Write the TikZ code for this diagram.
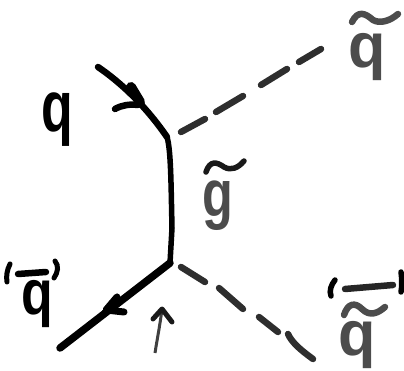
\documentclass[tikz,border=0pt]{standalone}
\usepackage{fontspec}
\setmainfont{Liberation Sans}
\tikzset{
  solidline/.style={line width=6.5pt,line cap=round,line join=round,black},
  dashline/.style={line width=6.5pt,line cap=round,black!82},
  accent/.style={line width=6.5pt,line cap=round,line join=round,black!70},
  letter/.style={inner sep=0pt,transform shape,font=\fontsize{72}{72}\bfseries\selectfont},
}
\begin{document}
\begin{tikzpicture}[x=1pt,y=-1pt]
\useasboundingbox (0,0) rectangle (404,371);
% quark lines
\coordinate (start) at (98,67);
\coordinate (v1) at (167,137);
\coordinate (v2) at (170,263);
\coordinate (end) at (60,348);
\draw[solidline] (start) .. controls (120,82) and (145,105) .. (v1);
\draw[line width=5.5pt,line cap=round,line join=round] (v1) .. controls (171,150) and (171,185) .. (172,228) -- (v2);
\draw[line width=7.5pt,line cap=round,line join=round] (v2) -- (end);
% arrowheads
\draw[line width=10pt,line cap=round] (131,87) -- (140,102);
\draw[solidline] (115,109) .. controls (122,105) and (130,104) .. (138,105);
\fill[line join=round] (118,293) -- (102,311) -- (125,312) -- (110,303) -- cycle;
\draw[line width=7pt,line cap=round,line join=round] (117,297) -- (106,310) -- (124,312);
% small arrow
\coordinate (tail) at (155,353);
\coordinate (tip) at (162,309);
\draw[line width=3pt,black!75] (tail) .. controls (157,340) and (160,325) .. (tip);
\draw[line width=5pt,line cap=round,line join=round,black!90] (153,319) -- (tip) -- (172,322);
% dashes, upper
\draw[dashline] (181,132) -- (205,119);
\draw[dashline] (216,112) -- (243,96);
\draw[dashline] (261,85) -- (287,69);
\draw[dashline] (299,62) -- (321,49);
% dashes, lower
\draw[dashline] (181,267) -- (205,282);
\draw[dashline] (219,288) -- (243,309);
\draw[dashline] (259,317) -- (278,332);
\draw[dashline] (288,334) .. controls (292,343) and (302,351) .. (313,359);
% labels
\node[letter,xscale=.72] (qin) at (57,120) {q};
\node[letter,xscale=.72,yscale=.88] (qbar) at (37,304) {q};
\node[letter,xscale=.85,yscale=.88,black!70] (qs) at (367,57) {q};
\node[letter,xscale=.85,yscale=.88,black!70] (qsbar) at (357,345) {q};
\node[letter,xscale=.7,yscale=.92,black!70] (gl) at (218,206) {g};
% tildes
\draw[accent] (352,22) .. controls (358,10) and (365,13) .. (373,20) .. controls (380,24) and (390,21) .. (398,14);
\draw[accent] (344,315) .. controls (348,303) and (355,302) .. (362,309) .. controls (370,317) and (378,313) .. (385,307);
\draw[accent,black!90,line width=5.5pt] (206,172) .. controls (210,160) and (217,162) .. (224,167) .. controls (231,171) and (238,168) .. (244,161);
% bars and brackets
\draw[solidline] (18,274) -- (46,272);
\draw[line width=5pt,line cap=round] (10,264) .. controls (7,270) and (6,276) .. (7,282);
\draw[line width=5pt,line cap=round] (55,261) .. controls (59,266) and (58,272) .. (54,278);
\draw[accent,black!85] (345,289) -- (393,285);
\draw[line width=5.5pt,line cap=round] (335,280) .. controls (331,285) and (329,291) .. (331,296);
\draw[line width=5.5pt,line cap=round] (401,272) .. controls (402,280) and (402,286) .. (401,292);
\end{tikzpicture}
\end{document}
